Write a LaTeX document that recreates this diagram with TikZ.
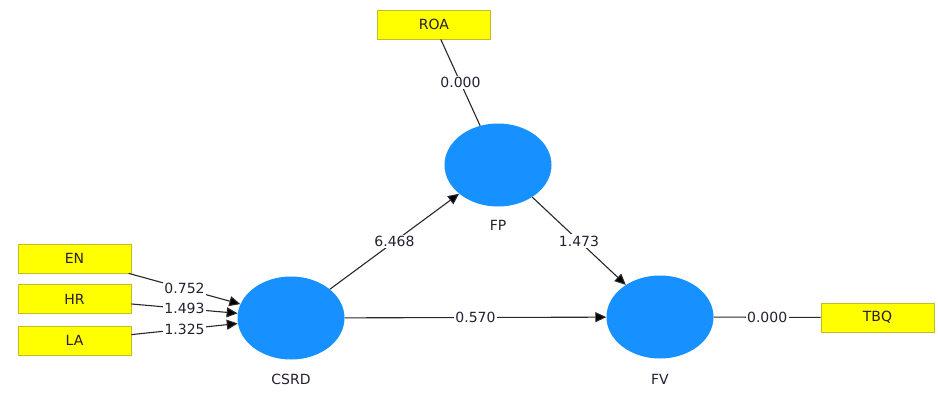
\documentclass[tikz,border=0pt]{standalone}
\usepackage{fontspec}
\setmainfont{DejaVu Sans}
\usetikzlibrary{shapes.geometric,arrows.meta}
\definecolor{lvblue}{RGB}{22,145,255}
\definecolor{indyel}{RGB}{255,255,0}
\definecolor{indbord}{RGB}{190,190,40}
\definecolor{txt}{RGB}{40,30,50}
\definecolor{edge}{RGB}{40,40,40}
\begin{document}
\begin{tikzpicture}[x=1pt,y=-1pt,
  font=\fontsize{14}{16}\selectfont, text=txt,
  latent/.style={ellipse, fill=lvblue, minimum width=107pt, minimum height=83pt, inner sep=0pt},
  indic/.style={rectangle, fill=indyel, draw=indbord, line width=0.8pt, minimum width=113pt, minimum height=29pt, inner sep=0pt},
  conn/.style={draw=edge, line width=1.1pt},
  arr/.style={conn, -{Triangle[length=11pt,width=10pt,fill=black]}},
  wt/.style={fill=white, inner sep=1.5pt, midway}
]
\fill[white] (0,0) rectangle (938,394);
\useasboundingbox (0,0) rectangle (938,394);

\node[latent, label={[label distance=11pt,text=txt]below:CSRD}] (CSRD) at (291,318) {};
\node[latent, label={[label distance=10pt,text=txt]below:FP}] (FP) at (498,165) {};
\node[latent, label={[label distance=12pt,text=txt]below:FV}] (FV) at (660,317) {};

\node[indic] (EN) at (74.5,258.5) {EN};
\node[indic] (HR) at (74.5,299) {HR};
\node[indic] (LA) at (74.5,340.5) {LA};
\node[indic] (ROA) at (434,24.5) {ROA};
\node[indic] (TBQ) at (877.5,317.5) {TBQ};

\draw[arr] (EN) -- (CSRD) node[wt] (wEN) {0.752};
\draw[arr] (HR) -- (CSRD) node[wt] (wHR) {1.493};
\draw[arr] (LA) -- (CSRD) node[wt] (wLA) {1.325};
\draw[conn] (ROA) -- (FP) node[wt] (wROA) {0.000};
\draw[arr] (CSRD) -- (FP) node[wt] (wCF) {6.468};
\draw[arr] (FP) -- (FV) node[wt] (wFV) {1.473};
\draw[arr] (CSRD) -- (FV) node[wt] (wCV) {0.570};
\draw[conn] (FV) -- (TBQ) node[wt] (wTBQ) {0.000};
\end{tikzpicture}
\end{document}
